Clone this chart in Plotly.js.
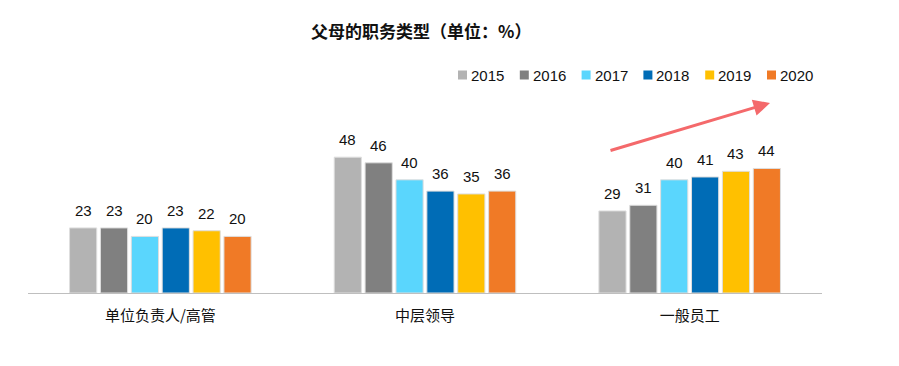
<!DOCTYPE html>
<html><head><meta charset="utf-8">
<script src="https://cdn.plot.ly/plotly-3.0.1.min.js"></script>
<style>body{margin:0;background:#fff}#chart{width:899px;height:366px}</style>
</head><body><div id="chart"></div>
<script>
const categories = ['单位负责人/高管', '中层领导', '一般员工'];
const years = ['2015', '2016', '2017', '2018', '2019', '2020'];
const v2015 = [23, 48, 29];
const v2016 = [23, 46, 31];
const v2017 = [20, 40, 40];
const v2018 = [23, 36, 41];
const v2019 = [22, 35, 43];
const v2020 = [20, 36, 44];
const series = [v2015, v2016, v2017, v2018, v2019, v2020];
const colors = ['#b3b3b3', '#808080', '#5ad6fd', '#006cb6', '#ffc000', '#f07a26'];

const bargap = 0.3;
const traces = series.map((vals, i) => ({
  type: 'bar', name: years[i], x: categories, y: vals,
  marker: {color: colors[i], line: {color: '#dedede', width: 1}},
  showlegend: false, hoverinfo: 'skip'
}));

const shapes = [];
const annotations = [];
// value labels above each bar, placed through the axis scales
const slot = (1 - bargap) / series.length;
series.forEach((vals, i) => {
  vals.forEach((v, c) => {
    annotations.push({xref: 'x', yref: 'y', x: c + (i - (series.length - 1) / 2) * slot, y: v,
      yanchor: 'bottom', xanchor: 'center', yshift: 7, text: String(v), showarrow: false,
      font: {family: 'Liberation Sans, Arial, sans-serif', size: 15, color: '#111'}});
  });
});
// custom legend (compact squares + text)
const legX0 = 458, legStep = 61.8, legY = 75;
years.forEach((yr, i) => {
  const x = legX0 + i * legStep;
  shapes.push({type: 'rect', xref: 'paper', yref: 'paper',
    x0: (x - 28) / 794, x1: (x + 9 - 28) / 794,
    y0: (293 - legY + 4.5) / 193, y1: (293 - legY - 4.5) / 193,
    fillcolor: colors[i], line: {width: 0}});
  annotations.push({xref: 'paper', yref: 'paper', x: (x + 11 - 28) / 794, y: (293 - legY) / 193,
    xanchor: 'left', yanchor: 'middle', text: yr, showarrow: false,
    font: {family: 'Liberation Sans, Arial, sans-serif', size: 15, color: '#111'}});
});
// trend arrow
annotations.push({xref: 'paper', yref: 'paper', x: (770 - 28) / 794, y: (293 - 103) / 193,
  ax: (609 - 28) / 794, ay: (293 - 151) / 193, axref: 'paper', ayref: 'paper',
  showarrow: true, arrowhead: 2, arrowsize: 1.1, arrowwidth: 3, arrowcolor: '#f4696b', text: ''});

const layout = {
  width: 899, height: 366,
  margin: {l: 28, r: 77, t: 100, b: 73},
  paper_bgcolor: '#fff', plot_bgcolor: '#fff',
  title: {text: '<b>父母的职务类型（单位：%）</b>', x: 0.4953, xref: 'paper', xanchor: 'center',
    y: 1 - 32 / 366, yref: 'container', yanchor: 'middle',
    font: {family: 'Noto Sans CJK SC, sans-serif', size: 17, color: '#111'}},
  barmode: 'group', bargap: bargap, bargroupgap: 0.12,
  xaxis: {showline: true, linecolor: '#bfbfbf', linewidth: 1, ticks: '', showgrid: false,
    ticklabelstandoff: 9,
    tickfont: {family: 'Noto Sans CJK SC, sans-serif', size: 15, color: '#111'}, fixedrange: true},
  yaxis: {range: [0, 68.2], visible: false, showgrid: false, zeroline: false, fixedrange: true},
  shapes: shapes, annotations: annotations, showlegend: false
};
Plotly.newPlot('chart', traces, layout, {displayModeBar: false, staticPlot: true});
</script></body></html>
